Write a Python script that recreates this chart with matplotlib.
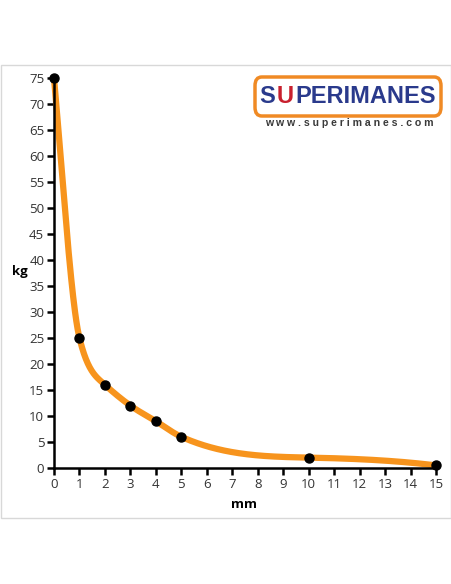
import numpy as np
import matplotlib
matplotlib.use("Agg")
import matplotlib.pyplot as plt
from matplotlib.patches import FancyBboxPatch, Rectangle

plt.rcParams['font.family'] = ['Open Sans', 'DejaVu Sans']

# distance (mm) vs holding force (kg)
mm = [0, 1, 2, 3, 4, 5, 10, 15]
kg = [75, 25, 16, 12, 9, 6, 2, 0.5]
x_ticks = list(range(0, 16))
y_ticks = list(range(0, 80, 5))

# tangent of the drawn smooth curve at each point (shape only)
curve_slopes = [-55, -20, -4.5, -3.5, -3, -2.2, -0.1, -0.6]


def hermite(x, y, m, xs):
    x = np.asarray(x, float)
    y = np.asarray(y, float)
    m = np.asarray(m, float)
    h = np.diff(x)
    idx = np.clip(np.searchsorted(x, xs) - 1, 0, len(h) - 1)
    t = (xs - x[idx]) / h[idx]
    h00 = 2 * t**3 - 3 * t**2 + 1
    h10 = t**3 - 2 * t**2 + t
    h01 = -2 * t**3 + 3 * t**2
    h11 = t**3 - t**2
    return (h00 * y[idx] + h10 * h[idx] * m[idx]
            + h01 * y[idx + 1] + h11 * h[idx] * m[idx + 1])


fig = plt.figure(figsize=(4.52, 5.84), dpi=100)

# light frame around the chart
fig.patches.append(Rectangle((1 / 452, 1 - 518 / 584), 450 / 452, 453 / 584,
                             transform=fig.transFigure, fill=False,
                             edgecolor='#d8d8d8', linewidth=1))

ax = fig.add_axes([54 / 452, (584 - 468) / 584, 382 / 452, 390 / 584])

xs = np.linspace(mm[0], mm[-1], 600)
ax.plot(xs, hermite(mm, kg, curve_slopes, xs), color='#f7941d', linewidth=4.5,
        solid_capstyle='round', clip_on=False, zorder=2)
ax.plot(mm, kg, 'o', color='black', markersize=6.5, clip_on=False, zorder=3)

ax.set_xlim(0, 15)
ax.set_ylim(0, 75)
ax.set_xticks(x_ticks)
ax.set_yticks(y_ticks)
for s in ['top', 'right']:
    ax.spines[s].set_visible(False)
for s in ['left', 'bottom']:
    ax.spines[s].set_linewidth(1.8)
ax.tick_params(length=5, width=1.8, labelsize=9.5, labelcolor='#333333', pad=2)

fig.text(12 / 452, 1 - 272 / 584, 'kg', fontsize=9.5, fontweight='bold',
         ha='left', va='center')
fig.text(244 / 452, 1 - 504 / 584, 'mm', fontsize=9.5, fontweight='bold',
         ha='center', va='center')

# logo
fig.patches.append(FancyBboxPatch((255 / 452, 1 - 116 / 584), 186 / 452, 39 / 584,
                                  boxstyle='round,pad=0,rounding_size=0.015',
                                  transform=fig.transFigure, facecolor='white',
                                  edgecolor='#f08a24', linewidth=2.5))
logo_font = 'Liberation Sans'
fig.text(275 / 452, 1 - 97 / 584, 'S', fontsize=17, fontweight='bold',
         color='#2a3a8c', ha='right', va='center', family=logo_font)
fig.text(285 / 452, 1 - 97 / 584, 'U', fontsize=17, fontweight='bold',
         color='#c8202e', ha='center', va='center', family=logo_font)
fig.text(295 / 452, 1 - 97 / 584, 'PERIMANES', fontsize=17, fontweight='bold',
         color='#2a3a8c', ha='left', va='center', family=logo_font)
fig.text(349 / 452, 1 - 123.5 / 584, 'w w w . s u p e r i m a n e s . c o m',
         fontsize=7.6, fontweight='bold', color='#3a3a3a', ha='center',
         va='center', family='Liberation Sans')

fig.savefig('out.png', dpi=100)
